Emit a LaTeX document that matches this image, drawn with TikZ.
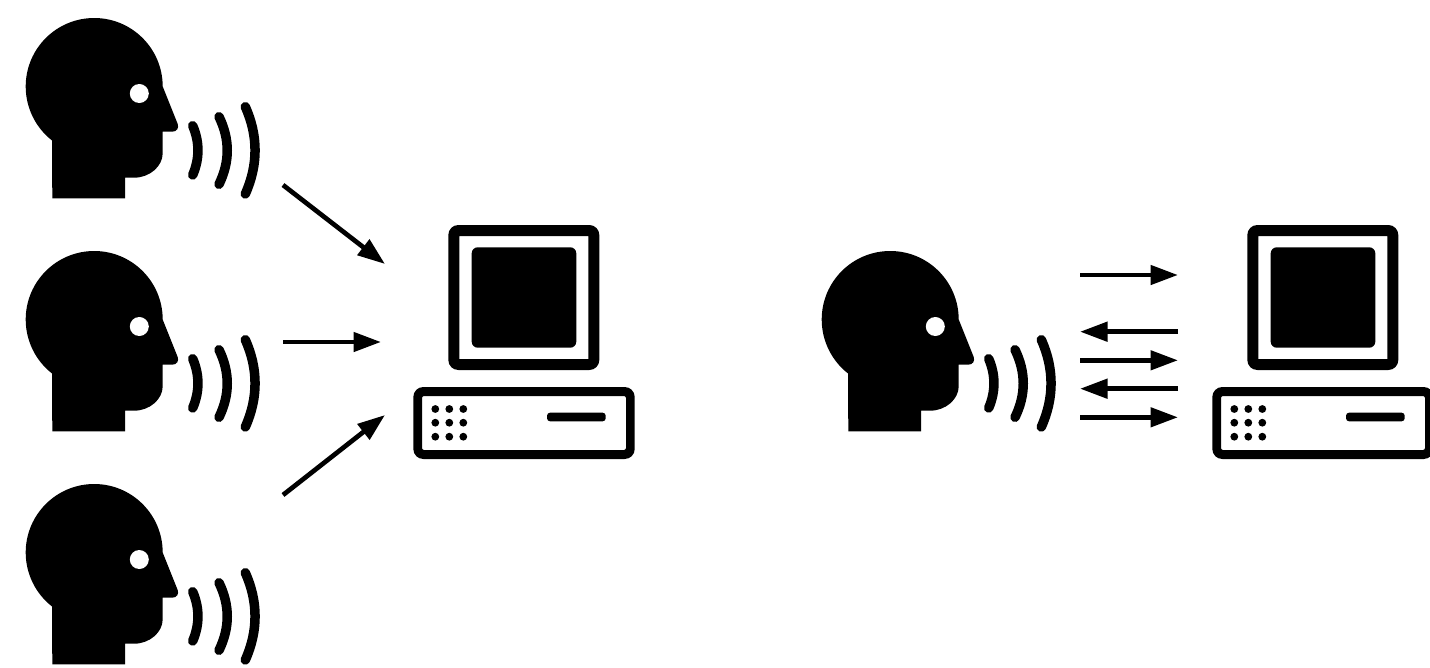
\documentclass[tikz,border=0pt]{standalone}
\usetikzlibrary{arrows.meta}
\tikzset{
    wave/.style={line width=9.5pt,line cap=round},
    link/.style={line width=4.7pt,-{Triangle[length=27.5pt,width=19pt]}},
    talker/.pic={
            \fill (52.3,198.3) -- (125,198.3) -- (125,177.7) -- (134,177.7)
            .. controls (150,177.7) and (162.7,166) .. (162.7,153.3) -- (162.7,131.7)
            -- (172,131.7) .. controls (177,131.7) and (179,128) .. (177.7,124)
            -- (162.7,86.5) arc[start angle=0,end angle=-232,radius=68.5] -- cycle;
            \fill[white] (139.3,93.5) circle(9.5);
            \foreach \xa/\xb/\ya/\yb in {192.7/199.7/125.7/175,219/230/116.7/184.3,245.3/258.3/106.7/194} {
                    \draw[wave] (\xa,\ya) .. controls (\xb,\ya/1.5+\yb/3) and (\xb,\ya/3+\yb/1.5) .. (\xa,\yb);
                }
        },
    desktop/.pic={
            \fill[even odd rule,rounded corners=10pt] (448.3,225) rectangle (599.3,370)
            [sharp corners] (459.3,236) rectangle (588.3,359);
            \fill[rounded corners=6pt] (471.7,247.3) rectangle (576.3,347.7);
            \fill[even odd rule,rounded corners=10pt] (413.3,387) rectangle (634.7,459)
            [rounded corners=2pt] (422,396) rectangle (626,450);
            \foreach \i in {435.3,449.3,463.3} {
                    \foreach \j in {409,422.7,436.7} {
                            \fill (\i,\j) circle(3.9);
                        }
                }
            \fill[rounded corners=3pt] (547,412.7) rectangle (605.7,421.3);
        },
}
\begin{document}
\begin{tikzpicture}[x=1pt,y=-1pt]
    \useasboundingbox (0,0) rectangle (1430,667);
    \foreach \i in {0,233,466} {
            \pic at (0,\i) {talker};
        }
    \pic at (796,233) {talker};
    \pic at (0,0) {desktop};
    \pic at (799,0) {desktop};

    \coordinate (fromA) at (283,185);
    \coordinate (toA) at (385,264);
    \coordinate (fromB) at (283,342);
    \coordinate (toB) at (381,342);
    \coordinate (fromC) at (283,495);
    \coordinate (toC) at (385,415);
    \foreach \i in {A,B,C} {
            \draw[link] (from\i) -- (to\i);
        }

    \foreach \i/\j in {1/275,2/331.7,3/360.3,4/388.7,5/417.3} {
            \coordinate (speech\i) at (1080,\j);
            \coordinate (reply\i) at (1178,\j);
        }
    \foreach \i in {1,3,5} {
            \draw[link] (speech\i) -- (reply\i);
        }
    \foreach \i in {2,4} {
            \draw[link] (reply\i) -- (speech\i);
        }
\end{tikzpicture}
\end{document}
